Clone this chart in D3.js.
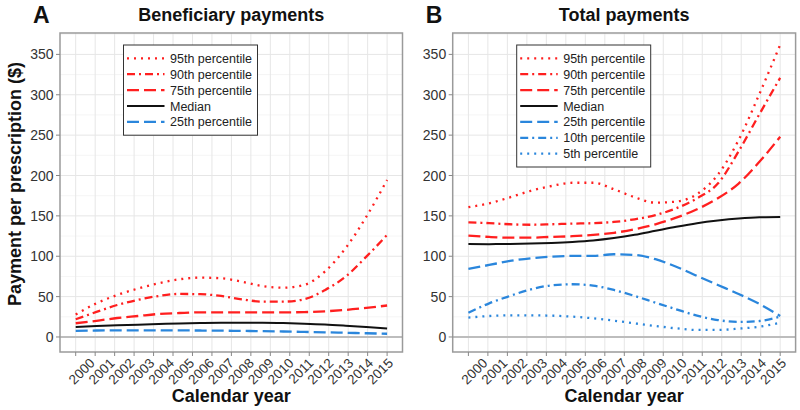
<!DOCTYPE html>
<html>
<head>
<meta charset="utf-8">
<script src="https://cdn.jsdelivr.net/npm/d3@7"></script>
<style>
  body { margin: 0; background: #fff; }
  svg { display: block; font-family: "Liberation Sans", Arial, Helvetica, sans-serif; }
</style>
</head>
<body>
<svg id="chart" width="800" height="410"></svg>
<script>
// ---------------- DATA ----------------
const years = [2000, 2001, 2002, 2003, 2004, 2005, 2006, 2007, 2008, 2009, 2010, 2011, 2012, 2013, 2014, 2015];
const yTicks = [0, 50, 100, 150, 200, 250, 300, 350];

// Panel A: Beneficiary payments
const benP95 = [28, 41.7, 52, 60, 66.5, 71.5, 73.5, 72.7, 68.5, 63, 61, 64.4, 81, 110, 149, 194.5];
const benP90 = [22, 31, 39.6, 46, 50.8, 53.3, 53, 50.8, 46.7, 43.8, 43.8, 46.7, 58, 74.7, 99.5, 126.4];
const benP75 = [17, 20, 23.5, 26, 28.5, 29.7, 30.5, 30.5, 30.5, 30.5, 30.5, 30.8, 31.8, 33.5, 36, 39];
const benMed = [12.5, 13.5, 14.5, 15.3, 16, 16.7, 17.2, 17.5, 17.5, 17.5, 17.2, 16.5, 15.5, 14, 12.3, 10.5];
const benP25 = [7.5, 8, 8.2, 8.3, 8.3, 8.2, 8, 7.8, 7.5, 7.2, 6.8, 6.3, 5.8, 5.2, 4.6, 4];

// Panel B: Total payments
const totP95 = [160.7, 165.6, 173, 181, 187, 191, 191, 183, 173, 166.4, 167.7, 177, 201, 244, 301, 362];
const totP90 = [142, 141, 139.6, 139, 139.6, 140.4, 141, 142.5, 145.8, 151, 159.4, 171.8, 190, 230, 276, 321];
const totP75 = [125.5, 123.9, 123, 123, 124, 124.8, 126.4, 129, 133.5, 139.6, 147.8, 158.2, 171.8, 190, 217, 248];
const totMed = [115.2, 115, 115.2, 115.7, 116.5, 117.7, 119.5, 122.5, 126.5, 131.5, 136.5, 140.9, 144.2, 146.7, 148.2, 148.5];
const totP25 = [84.3, 89.2, 94.2, 97.5, 99.5, 100.4, 100.5, 102.5, 101.6, 96.3, 87, 75.6, 64.4, 53.3, 40.9, 26];
const totP10 = [30, 41.7, 50.8, 59, 64, 65.3, 63.6, 58.2, 50.8, 42.5, 34.3, 26.4, 21, 18.6, 19.8, 25.2];
const totP5  = [24, 26, 26.8, 26.8, 26.4, 25.2, 23.1, 20.2, 16.9, 13.6, 10.7, 8.7, 8.7, 10.3, 12.8, 17.7];

const seriesNames = ["95th percentile", "90th percentile", "75th percentile", "Median", "25th percentile", "10th percentile", "5th percentile"];

// ---------------- STYLES ----------------
const RED = "#ff1f1f", BLUE = "#2a86dc", BLACK = "#111111";
const styleOf = {
  "95th percentile": { color: RED, dash: "2,5", width: 2.3 },
  "90th percentile": { color: RED, dash: "8,4,2,4", width: 2.3 },
  "75th percentile": { color: RED, dash: "12,5", width: 2.3 },
  "Median":          { color: BLACK, dash: null, width: 2.0 },
  "25th percentile": { color: BLUE, dash: "12,5", width: 2.3 },
  "10th percentile": { color: BLUE, dash: "8,4,2,4", width: 2.3 },
  "5th percentile":  { color: BLUE, dash: "2,5", width: 2.3 }
};

const panels = [
  { letter: "A", title: "Beneficiary payments", left: 60, right: 402.5,
    series: [benP95, benP90, benP75, benMed, benP25],
    legend: { x: 123.5, y: 45, w: 134 } },
  { letter: "B", title: "Total payments", left: 452.7, right: 795.6,
    series: [totP95, totP90, totP75, totMed, totP25, totP10, totP5],
    legend: { x: 516.7, y: 45, w: 134 } }
];

const plotTop = 33, plotBottom = 352;
const svg = d3.select("#chart");

const y = d3.scaleLinear().domain([-18.6, 376.5]).range([plotBottom, plotTop]);

panels.forEach(p => {
  const g = svg.append("g");
  const x = d3.scaleLinear().domain([2000, 2015]).range([p.left + 15.7, p.right - 15.4]);
  const xLab = d3.scaleLinear().domain([2000, 2015]).range([p.left + 15.7 + 13, p.right - 15.4]);

  g.append("rect").attr("x", p.left).attr("y", plotTop).attr("width", p.right - p.left).attr("height", plotBottom - plotTop).attr("fill", "#fff");

  // minor horizontal grid
  const minorY = d3.range(25, 376, 50);
  g.selectAll(".hminor").data(minorY).join("line")
    .attr("x1", p.left).attr("x2", p.right)
    .attr("y1", d => y(d)).attr("y2", d => y(d))
    .attr("stroke", "#f2f2f2").attr("stroke-width", 0.8);
  // major horizontal grid
  g.selectAll(".hmajor").data(yTicks).join("line")
    .attr("x1", p.left).attr("x2", p.right)
    .attr("y1", d => y(d)).attr("y2", d => y(d))
    .attr("stroke", "#e6e6e6").attr("stroke-width", 1);

  // vertical grid (17 evenly spaced breaks)
  const vBreaks = d3.range(17).map(i => 2000 + i * 15 / 16);
  g.selectAll(".vgrid").data(vBreaks).join("line")
    .attr("x1", d => x(d)).attr("x2", d => x(d))
    .attr("y1", plotTop).attr("y2", plotBottom)
    .attr("stroke", "#e6e6e6").attr("stroke-width", 1);

  // zero line
  g.append("line").attr("x1", p.left).attr("x2", p.right)
    .attr("y1", y(0)).attr("y2", y(0))
    .attr("stroke", "#bdbdbd").attr("stroke-width", 2);

  // series lines
  const line = d3.line().x((d, i) => x(years[i])).y(d => y(d)).curve(d3.curveMonotoneX);
  p.series.forEach((vals, si) => {
    const st = styleOf[seriesNames[si]];
    g.append("path").datum(vals).attr("d", line)
      .attr("fill", "none").attr("stroke", st.color)
      .attr("stroke-width", st.width)
      .attr("stroke-dasharray", st.dash)
      .attr("stroke-linecap", "butt");
  });

  // panel border
  g.append("rect").attr("x", p.left).attr("y", plotTop).attr("width", p.right - p.left).attr("height", plotBottom - plotTop)
    .attr("fill", "none").attr("stroke", "#9a9a9a").attr("stroke-width", 1.5);

  // y ticks
  g.selectAll(".ytick").data(yTicks).join("line")
    .attr("x1", p.left - 4).attr("x2", p.left)
    .attr("y1", d => y(d)).attr("y2", d => y(d))
    .attr("stroke", "#888").attr("stroke-width", 1);
  g.selectAll(".ylab").data(yTicks).join("text")
    .attr("x", p.left - 6.5).attr("y", d => y(d)).attr("dy", "0.36em")
    .attr("text-anchor", "end").attr("font-size", 14).attr("fill", "#333")
    .text(d => d);

  // x ticks
  g.selectAll(".xtick").data(vBreaks).join("line")
    .attr("x1", d => x(d)).attr("x2", d => x(d))
    .attr("y1", plotBottom).attr("y2", plotBottom + 4)
    .attr("stroke", "#888").attr("stroke-width", 1);
  g.selectAll(".xlab").data(years).join("text")
    .attr("transform", d => `translate(${xLab(d)},${plotBottom + 5}) rotate(-45)`)
    .attr("text-anchor", "end").attr("dy", "0.72em")
    .attr("font-size", 13.5).attr("fill", "#333")
    .text(d => d);

  // axis title
  g.append("text").attr("x", (p.left + p.right) / 2).attr("y", 402)
    .attr("text-anchor", "middle").attr("font-size", 18).attr("font-weight", "bold")
    .attr("fill", "#111").text("Calendar year");

  // panel title
  g.append("text").attr("x", (p.left + p.right) / 2).attr("y", 21)
    .attr("text-anchor", "middle").attr("font-size", 18).attr("font-weight", "bold")
    .attr("fill", "#111").text(p.title);
  g.append("text").attr("x", p.left - 27).attr("y", 23)
    .attr("font-size", 23).attr("font-weight", "bold")
    .attr("fill", "#111").text(p.letter);

  // legend
  const names = seriesNames.slice(0, p.series.length);
  const step = 15.9;
  const lg = g.append("g");
  const lh = 13.3 * 2 + step * (names.length - 1);
  lg.append("rect").attr("x", p.legend.x).attr("y", p.legend.y)
    .attr("width", p.legend.w).attr("height", lh)
    .attr("fill", "#fff").attr("stroke", "#333").attr("stroke-width", 1);
  names.forEach((n, i) => {
    const st = styleOf[n];
    const cy = p.legend.y + 13.3 + i * step;
    lg.append("line").attr("x1", p.legend.x + 3.5).attr("x2", p.legend.x + 41)
      .attr("y1", cy).attr("y2", cy)
      .attr("stroke", st.color).attr("stroke-width", st.width)
      .attr("stroke-dasharray", st.dash);
    lg.append("text").attr("x", p.legend.x + 46.5).attr("y", cy).attr("dy", "0.36em")
      .attr("font-size", 12.5).attr("fill", "#222").text(n);
  });
});

// y axis title
svg.append("text")
  .attr("transform", `translate(21,184) rotate(-90)`)
  .attr("text-anchor", "middle").attr("font-size", 18).attr("font-weight", "bold")
  .attr("fill", "#111").text("Payment per prescription ($)");
</script>
</body>
</html>
